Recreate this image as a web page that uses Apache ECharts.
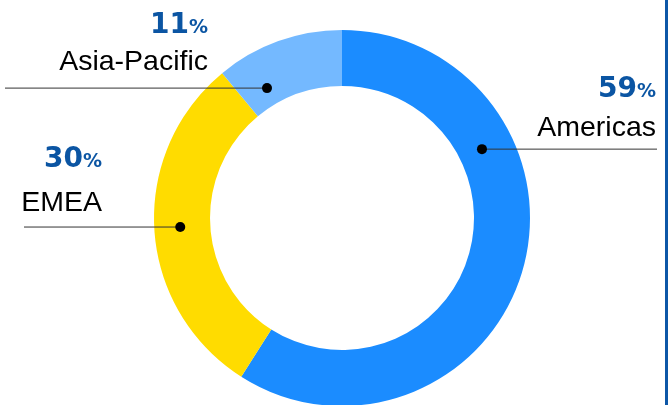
<!DOCTYPE html>
<html>
<head>
<meta charset="utf-8">
<script src="https://cdn.jsdelivr.net/npm/echarts@6/dist/echarts.min.js"></script>
<style>
html,body{margin:0;padding:0;background:#fff;}
#wrap{position:relative;width:671px;height:405px;overflow:hidden;}
#c{width:671px;height:405px;}
#edge{position:absolute;left:665px;top:0;width:3px;height:405px;background:#0d57a7;}
</style>
</head>
<body>
<div id="wrap"><div id="c"></div><div id="edge"></div></div>
<script>
// ---- data ----
const categories = ['Americas', 'EMEA', 'Asia-Pacific'];
const shares = [59, 30, 11];
const sliceColors = ['#1b8cff', '#ffdc00', '#74b9ff'];

// ---- layout (annotation placement, not data) ----
const CX = 342, CY = 218, R_IN = 132, R_OUT = 188;
// dot angle (deg clockwise from 12 o'clock), dot radius, text right edge, leader end x,
// baseline offsets (relative to leader line) of the percentage and of the name
const annot = [
  { ang: 63.8,  r: 156, textRight: 656, lineTo: 657, pctOff: -50, nameOff: -11 },
  { ang: 266.8, r: 162, textRight: 102, lineTo: 24,  pctOff: -58, nameOff: -14 },
  { ang: 330,   r: 150, textRight: 208, lineTo: 5,   pctOff: -53, nameOff: -16 }
];
const PCT_FONT = 28, SIGN_FONT = 19, NAME_FONT = 28.5;
const PCT_FAMILY = 'DejaVu Sans', NAME_FAMILY = 'Liberation Sans';
const PCT_COLOR = '#0b55a3';
const MID = 0.347; // baseline distance below 'middle' in em

function dotPos(a) {
  const t = a.ang * Math.PI / 180;
  return [CX + a.r * Math.sin(t), CY - a.r * Math.cos(t)];
}
const mctx = document.createElement('canvas').getContext('2d');
function textW(str, font) { mctx.font = font; return mctx.measureText(str).width; }

const graphics = [];
categories.forEach((name, i) => {
  const a = annot[i];
  const d = dotPos(a);
  const ly = d[1];
  // leader line
  graphics.push({ type: 'polyline', shape: { points: [d, [a.lineTo, ly]] },
    style: { stroke: '#333', lineWidth: 1, fill: null }, z: 100 });
  // dot
  graphics.push({ type: 'circle', shape: { cx: d[0], cy: d[1], r: 5 }, style: { fill: '#000' }, z: 101 });
  // percentage sign
  const signFont = 'bold ' + SIGN_FONT + 'px "' + PCT_FAMILY + '"';
  const signW = textW('%', signFont);
  const pb = ly + a.pctOff;
  graphics.push({ type: 'text', x: a.textRight, y: pb - MID * SIGN_FONT, z: 100,
    style: { text: '%', fontFamily: PCT_FAMILY, fontWeight: 'bold', fontSize: SIGN_FONT,
      fill: PCT_COLOR, align: 'right', verticalAlign: 'middle' } });
  // percentage number
  graphics.push({ type: 'text', x: a.textRight - signW, y: pb - MID * PCT_FONT, z: 100,
    style: { text: String(shares[i]), fontFamily: PCT_FAMILY, fontWeight: 'bold', fontSize: PCT_FONT,
      fill: PCT_COLOR, align: 'right', verticalAlign: 'middle' } });
  // name
  const nb = ly + a.nameOff;
  graphics.push({ type: 'text', x: a.textRight, y: nb - MID * NAME_FONT, z: 100,
    style: { text: name, fontFamily: NAME_FAMILY, fontSize: NAME_FONT,
      fill: '#000', align: 'right', verticalAlign: 'middle' } });
});

const chart = echarts.init(document.getElementById('c'), null, { renderer: 'canvas' });
chart.setOption({
  animation: false,
  series: [{
    type: 'pie',
    center: [CX, CY],
    radius: [R_IN, R_OUT],
    startAngle: 90,
    clockwise: true,
    emphasis: { disabled: true },
    itemStyle: { borderWidth: 0 },
    label: { show: false },
    labelLine: { show: false },
    data: categories.map((n, i) => ({ name: n, value: shares[i], itemStyle: { color: sliceColors[i] } }))
  }],
  graphic: graphics
});
</script>
</body>
</html>
